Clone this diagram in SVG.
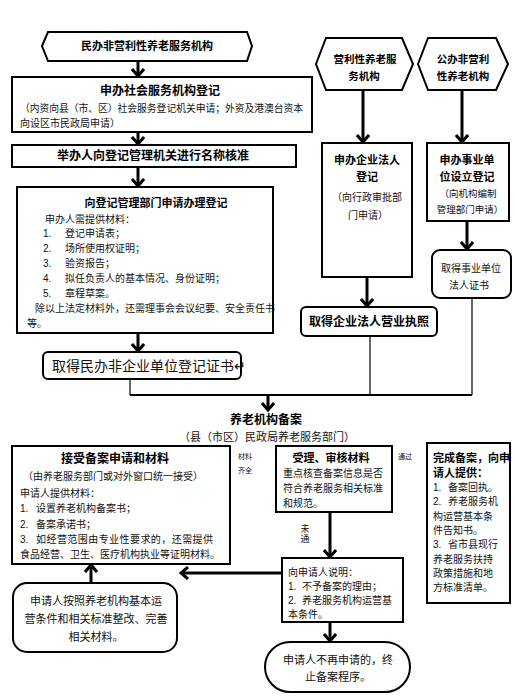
<svg xmlns="http://www.w3.org/2000/svg" width="515" height="697" viewBox="0 0 515 697">
<style>
text{font-family:"Liberation Sans","Noto Sans CJK SC",sans-serif;fill:#111;font-size:10px}
.b{font-weight:bold;fill:#000}
.m{text-anchor:middle}
.box{fill:#fff;stroke:#000;stroke-width:2}
.arr{fill:none;stroke:#000;stroke-width:3;marker-end:url(#ah)}
.ln{fill:none;stroke:#000;stroke-width:1.2}
.tiny{font-size:7px}
</style>
<defs>
<marker id="ah" markerUnits="userSpaceOnUse" markerWidth="14" markerHeight="14" viewBox="0 0 14 14" refX="12" refY="7" orient="auto">
<path d="M5,1 L12,7 L5,13" fill="none" stroke="#000" stroke-width="3"/>
</marker>
</defs>
<rect width="515" height="697" fill="#fff"/>

<g id="connectors">
<path class="arr" d="M138,61 V76"/>
<path class="arr" d="M138,132 V144"/>
<path class="arr" d="M138,167 V186"/>
<path class="arr" d="M138,333 V351"/>
<path class="ln" d="M130,379 V395"/>
<path d="M130,395 H472" fill="none" stroke="#000" stroke-width="2"/>
<path class="ln" d="M370,336 V395"/>
<path class="ln" d="M472,298 V395"/>
<path class="arr" d="M268,395 V410"/>
<path class="arr" d="M363,90 V142"/>
<path class="arr" d="M462,90 V142"/>
<path class="arr" d="M467,221 V249"/>
<path class="arr" d="M367,277 V306"/>
<path class="arr" d="M330,512 V557"/>
<path class="arr" d="M282,573 H181"/>
<path class="arr" d="M91,583 V565"/>
<path class="arr" d="M330,622 V641"/>
</g>

<g id="n-minban">
<polygon class="box" points="42,46 48,32 247,32 252,46 247,61 48,61"/>
<text class="b m" x="147" y="50" style="font-size:11px">民办非营利性养老服务机构</text>
</g>

<g id="n-shenban">
<rect class="box" x="12" y="77" width="300" height="55"/>
<text class="b m" x="160" y="95" style="font-size:12px">申办社会服务机构登记</text>
<text x="20" y="112" textLength="283" lengthAdjust="spacingAndGlyphs">（内资向县（市、区）社会服务登记机关申请；外资及港澳台资本</text>
<text x="20" y="127">向设区市民政局申请）</text>
</g>

<g id="n-mingcheng">
<rect class="box" x="12" y="145" width="284" height="22"/>
<text class="b m" x="153" y="160" style="font-size:12px">举办人向登记管理机关进行名称核准</text>
</g>

<g id="n-dengji">
<rect class="box" x="17" y="187" width="256" height="146"/>
<text class="b m" x="156" y="207" style="font-size:11px">向登记管理部门申请办理登记</text>
<text x="45" y="223">申办人需提供材料：</text>
<text x="43" y="237">1.</text><text x="65" y="237">登记申请表；</text>
<text x="43" y="252">2.</text><text x="65" y="252">场所使用权证明；</text>
<text x="43" y="267">3.</text><text x="65" y="267">验资报告；</text>
<text x="43" y="282">4.</text><text x="65" y="282">拟任负责人的基本情况、身份证明；</text>
<text x="43" y="297">5.</text><text x="65" y="297">章程草案。</text>
<text x="35" y="312">除以上法定材料外，还需理事会会议纪要、安全责任书</text>
<text x="27" y="327">等。</text>
</g>

<g id="n-zhengshu">
<rect class="box" x="43" y="352" width="198" height="27" rx="5"/>
<text x="52" y="371" style="font-size:14px">取得民办非企业单位登记证书↵</text>
</g>

<g id="n-yingli">
<polygon class="box" points="316,64 326,38 402,38 413,64 402,90 326,90"/>
<text class="b m" x="365" y="63" style="font-size:10.5px">营利性养老服</text>
<text class="b m" x="364" y="80" style="font-size:10.5px">务机构</text>
</g>

<g id="n-gongban">
<polygon class="box" points="418,64 428,38 496,38 508,64 496,90 428,90"/>
<text class="b m" x="463" y="63" style="font-size:10.5px">公办非营利</text>
<text class="b m" x="463" y="80" style="font-size:10.5px">性养老机构</text>
</g>

<g id="n-qiye">
<rect class="box" x="322" y="143" width="90" height="134"/>
<text class="b m" x="367" y="164" style="font-size:11px">申办企业法人</text>
<text class="b m" x="367" y="181" style="font-size:11px">登记</text>
<text class="m" x="367" y="201">（向行政审批部</text>
<text class="m" x="368" y="219">门申请）</text>
</g>

<g id="n-shiye">
<rect class="box" x="427" y="143" width="82" height="78"/>
<text class="b m" x="467" y="164" style="font-size:11px">申办事业单</text>
<text class="b m" x="467" y="181" style="font-size:11px">位设立登记</text>
<text class="m" x="468" y="197" style="font-size:9.5px">（向机构编制</text>
<text class="m" x="470" y="213" style="font-size:9.5px">管理部门申请）</text>
</g>

<g id="n-shiyezheng">
<rect class="box" x="432" y="250" width="79" height="48" rx="8"/>
<text class="m" x="471" y="272">取得事业单位</text>
<text class="m" x="469" y="289">法人证书</text>
</g>

<g id="n-zhizhao">
<rect class="box" x="301" y="307" width="136" height="29" rx="5"/>
<text class="b m" x="369" y="326" style="font-size:12px">取得企业法人营业执照</text>
</g>

<g id="n-beian">
<text class="b m" x="266" y="424" style="font-size:12px">养老机构备案</text>
<text class="m" x="267" y="441" style="font-size:11px">（县（市区）民政局养老服务部门）</text>
</g>

<g id="n-jieshou">
<rect class="box" x="12" y="446" width="218" height="118"/>
<text class="b m" x="115" y="463" style="font-size:12px">接受备案申请和材料</text>
<text x="23" y="480">（由养老服务部门或对外窗口统一接受）</text>
<text x="20" y="497">申请人提供材料：</text>
<text x="20" y="512">1.</text><text x="36" y="512">设置养老机构备案书；</text>
<text x="20" y="528">2.</text><text x="36" y="528">备案承诺书；</text>
<text x="20" y="543">3.</text><text x="36" y="543" textLength="177" lengthAdjust="spacing">如经营范围由专业性要求的，还需提供</text>
<text x="20" y="558">食品经营、卫生、医疗机构执业等证明材料。</text>
</g>

<g id="n-shouli">
<rect class="box" x="276" y="446" width="116" height="66"/>
<text class="b m" x="331" y="462" style="font-size:11px">受理、审核材料</text>
<text x="283" y="477">重点核查备案信息是否</text>
<text x="283" y="492">符合养老服务相关标准</text>
<text x="283" y="507">和规范。</text>
</g>

<g id="labels">
<text class="tiny" x="238" y="459">材料</text>
<text class="tiny" x="238" y="473">齐全</text>
<text class="tiny" x="398" y="459">通过</text>
<text class="m" x="305" y="532" style="font-size:9px">未</text>
<text class="m" x="305" y="542" style="font-size:9px">通</text>
</g>

<g id="n-wancheng">
<rect class="box" x="427" y="443" width="83" height="160"/>
<text class="b" x="433" y="462" style="font-size:11px">完成备案，向申</text>
<text class="b" x="433" y="477" style="font-size:11px">请人提供：</text>
<text x="433" y="491">1.</text><text x="448" y="491">备案回执。</text>
<text x="433" y="505">2.</text><text x="448" y="505">养老服务机</text>
<text x="433" y="520">构运营基本条</text>
<text x="433" y="534">件告知书。</text>
<text x="433" y="548">3.</text><text x="448" y="548">省市县现行</text>
<text x="433" y="563">养老服务扶持</text>
<text x="433" y="577">政策措施和地</text>
<text x="433" y="591">方标准清单。</text>
</g>

<g id="n-shuoming">
<rect class="box" x="282" y="558" width="121" height="64"/>
<text x="288" y="576">向申请人说明：</text>
<text x="288" y="590">1.</text><text x="302" y="590">不予备案的理由；</text>
<text x="288" y="604">2.</text><text x="302" y="604">养老服务机构运营基</text>
<text x="288" y="618">本条件。</text>
</g>

<g id="n-zhenggai">
<rect class="box" x="13" y="583" width="164" height="69" rx="14"/>
<text class="m" x="96" y="605" style="font-size:11px">申请人按照养老机构基本运</text>
<text class="m" x="96" y="623" style="font-size:11px">营条件和相关标准整改、完善</text>
<text class="m" x="96" y="641" style="font-size:11px">相关材料。</text>
</g>

<g id="n-zhongzhi">
<rect class="box" x="265" y="642" width="145" height="50" rx="25"/>
<text class="m" x="338" y="664" style="font-size:11px">申请人不再申请的，终</text>
<text class="m" x="338" y="681" style="font-size:11px">止备案程序。</text>
</g>
</svg>
